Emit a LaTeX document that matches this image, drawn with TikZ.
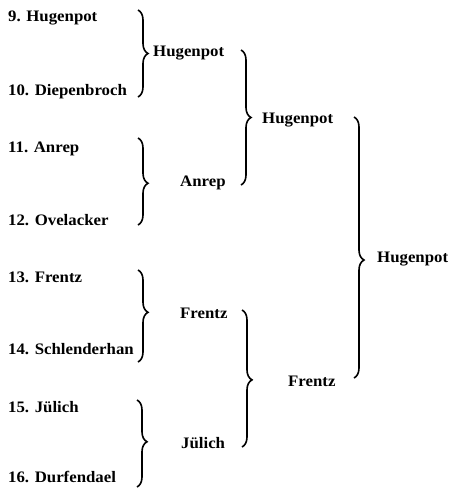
\documentclass[tikz,border=0pt]{standalone}
\usepackage{fontspec}
\setmainfont{Liberation Serif}[FakeStretch=1.05]
\usetikzlibrary{decorations.pathreplacing}
\begin{document}
\begin{tikzpicture}[x=1pt,y=-1pt,
  lbl/.style={anchor=west,inner sep=0pt,font=\fontsize{16}{19}\selectfont\bfseries},
  brc/.style={decorate,decoration={brace,amplitude=10pt,aspect=#1},line width=1.6pt},
  brc/.default=0.5]
\path[use as bounding box] (0,0) rectangle (451,491);
% first round
\node[lbl] (p9)  at (8,18)  {9. Hugenpot};
\node[lbl] (p10) at (8,92)  {10. Diepenbroch};
\node[lbl] (p11) at (8,149) {11. Anrep};
\node[lbl] (p12) at (8,220) {12. Ovelacker};
\node[lbl] (p13) at (8,277) {13. Frentz};
\node[lbl] (p14) at (8,349) {14. Schlenderhan};
\node[lbl] (p15) at (8,407) {15. Jülich};
\node[lbl] (p16) at (8,477) {16. Durfendael};
% second round
\node[lbl] (q1) at (153,53)  {Hugenpot};
\node[lbl] (q2) at (180,183) {Anrep};
\node[lbl] (q3) at (180,313) {Frentz};
\node[lbl] (q4) at (181,443) {Jülich};
% third round
\node[lbl] (r1) at (262,120) {Hugenpot};
\node[lbl] (r2) at (288,381) {Frentz};
% final
\node[lbl] (s1) at (377,259) {Hugenpot};
% brace ends
\coordinate (a1t) at (138,10);  \coordinate (a1b) at (138,97);
\coordinate (a2t) at (138,138); \coordinate (a2b) at (138,225);
\coordinate (a3t) at (138,270); \coordinate (a3b) at (138,362);
\coordinate (a4t) at (137,400); \coordinate (a4b) at (137,487);
\coordinate (b1t) at (241,50);  \coordinate (b1b) at (241,185);
\coordinate (b2t) at (242,310); \coordinate (b2b) at (242,447);
\coordinate (c1t) at (354,117); \coordinate (c1b) at (354,378);
\draw[brc] (a1t) -- (a1b);
\draw[brc=0.52] (a2t) -- (a2b);
\draw[brc=0.46] (a3t) -- (a3b);
\draw[brc=0.48] (a4t) -- (a4b);
\draw[brc=0.5] (b1t) -- (b1b);
\draw[brc=0.51] (b2t) -- (b2b);
\draw[brc=0.548] (c1t) -- (c1b);
\end{tikzpicture}
\end{document}
